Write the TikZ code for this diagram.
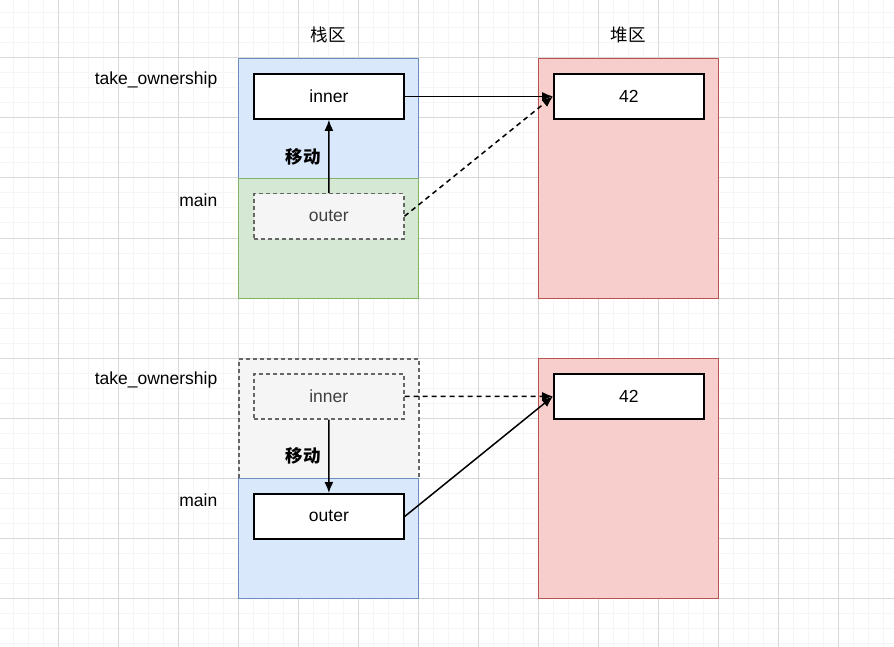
\documentclass[tikz,border=0pt]{standalone}
\usepackage{fontspec}
\setmainfont{Liberation Sans}
\newfontfamily\cjk{Noto Sans CJK SC}
\usetikzlibrary{positioning,arrows.meta}
\definecolor{bluefill}{HTML}{DAE8FC}
\definecolor{bluedraw}{HTML}{6C8EBF}
\definecolor{greenfill}{HTML}{D5E8D4}
\definecolor{greendraw}{HTML}{82B366}
\definecolor{redfill}{HTML}{F8CECC}
\definecolor{reddraw}{HTML}{B85450}
\definecolor{grayfill}{HTML}{F5F5F5}
\definecolor{graydraw}{HTML}{666666}
\begin{document}
\begin{tikzpicture}[x=1pt,y=-1pt,font=\fontsize{17.5}{20}\selectfont,line width=1.3pt]
        %
        % `region' is a stack or heap frame, `cell' a variable box.
        \tikzset{region/.style={draw,anchor=north west,inner sep=0pt,minimum width=180pt,minimum height=120pt}}
        \tikzset{cell/.style={draw=black,fill=white,line width=1.8pt,anchor=north west,minimum width=150pt,minimum height=45pt}}
        \tikzset{ghost/.style={draw=graydraw,fill=grayfill,dash pattern=on 4pt off 3pt,line width=1.5pt,text=black!75}}
        \tikzset{lbl/.style={anchor=east,inner sep=0pt}}
        \tikzset{move/.style={font=\cjk\bfseries\fontsize{17.5}{20}\selectfont}}
        \tikzset{link/.style={line width=1.5pt,-{Latex[length=11pt,width=9pt]}}}
        %
        % Grid
        \fill[white] (0,0) rectangle (894,647);
        \useasboundingbox (0,0) rectangle (894,647);
        \foreach \i in {0,...,60} {
          \draw[black!4,line width=1pt] ({\i*15-2},0) -- ({\i*15-2},647);
          \draw[black!4,line width=1pt] (0,{\i*15-2}) -- (894,{\i*15-2});
        }
        \foreach \i in {0,...,15} {
          \draw[black!15,line width=1pt] ({\i*60-2},0) -- ({\i*60-2},647);
          \draw[black!15,line width=1pt] (0,{\i*60-2}) -- (894,{\i*60-2});
        }
        %
        % Titles
        \node[font=\cjk\fontsize{17.5}{20}\selectfont] (stack) at (328,35) {栈区};
        \node[font=\cjk\fontsize{17.5}{20}\selectfont] (heap) at (628,35) {堆区};
        %
        % Upper frames
        \node[region,draw=bluedraw,fill=bluefill] (take1) at (238,58) {};
        \node[region,draw=greendraw,fill=greenfill] (main1) at (238,178) {};
        \node[region,draw=reddraw,fill=redfill,minimum height=240pt] (heap1) at (538,58) {};
        \node[lbl] (ltake1) at (218,80) {take\_ownership};
        \node[lbl] (lmain1) at (218,200) {main};
        \node[cell] (inner1) at (253,73) {inner};
        \node[cell] (val1) at (553,73) {42};
        \node[cell,ghost] (outer1) at (253,193) {outer};
        \draw[link] (outer1.north) -- node[move,left=4pt] (mv1) {移动} (inner1.south);
        \draw[link] (inner1.east) -- (val1.west);
        \draw[link,dash pattern=on 5pt off 4pt] (outer1.east) -- (val1.west);
        %
        % Lower frames
        \node[region,ghost] (take2) at (238,358) {};
        \node[region,draw=bluedraw,fill=bluefill] (main2) at (238,478) {};
        \node[region,draw=reddraw,fill=redfill,minimum height=240pt] (heap2) at (538,358) {};
        \node[lbl] (ltake2) at (218,380) {take\_ownership};
        \node[lbl] (lmain2) at (218,500) {main};
        \node[cell,ghost] (inner2) at (253,373) {inner};
        \node[cell] (val2) at (553,373) {42};
        \node[cell] (outer2) at (253,493) {outer};
        \draw[link] (inner2.south) -- node[move,left=4pt] (mv2) {移动} (outer2.north);
        \draw[link,dash pattern=on 5pt off 4pt] (inner2.east) -- (val2.west);
        \draw[link] (outer2.east) -- (val2.west);
\end{tikzpicture}
\end{document}
